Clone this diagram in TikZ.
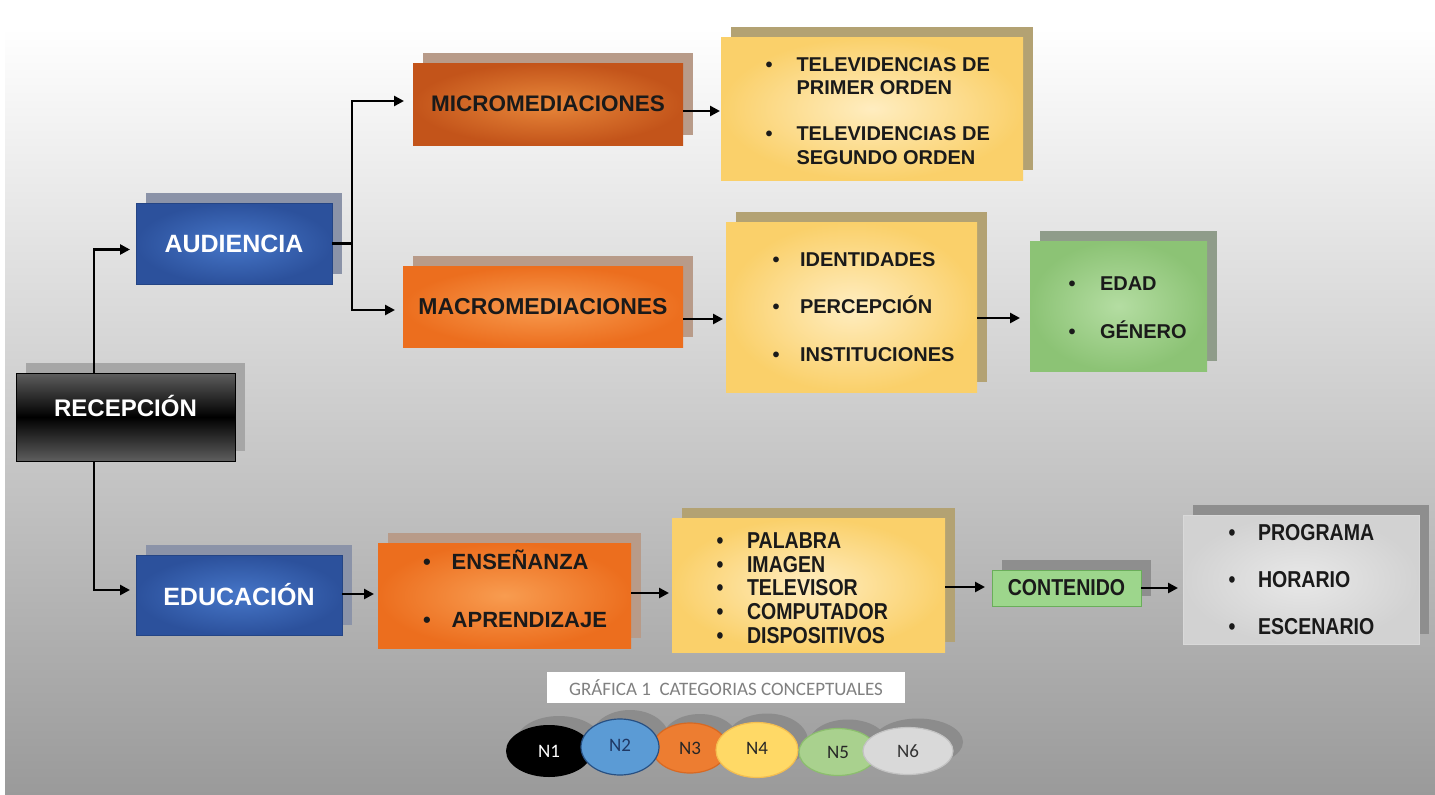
\documentclass[tikz,border=0pt]{standalone}
\usepackage{fontspec}
\setmainfont{Liberation Sans}
\newfontfamily\narrowsans{Liberation Sans}[FakeStretch=0.85]
\newfontfamily\legendfont{Carlito}
\usetikzlibrary{arrows.meta,shadows,shapes.geometric}

\definecolor{ink}{HTML}{1A1A1A}
\definecolor{bgbottom}{HTML}{9A9A9A}
\definecolor{recSh}{HTML}{A6A6A6}
\definecolor{recEdge}{HTML}{5E5E5E}
\definecolor{blueE}{HTML}{2C519C}
\definecolor{blueC}{HTML}{4676C8}
\definecolor{blueSh}{HTML}{8B93A8}
\definecolor{orgDarkE}{HTML}{C3541A}
\definecolor{orgDarkC}{HTML}{E8873A}
\definecolor{orgE}{HTML}{EC6E1E}
\definecolor{orgC}{HTML}{F89C50}
\definecolor{orgSh}{HTML}{B89B89}
\definecolor{yelE}{HTML}{FAD06A}
\definecolor{yelC}{HTML}{FFEDC0}
\definecolor{yelSh}{HTML}{B3A273}
\definecolor{grnE}{HTML}{8CC375}
\definecolor{grnC}{HTML}{B4DDA2}
\definecolor{grnSh}{HTML}{8F9C8A}
\definecolor{contFill}{HTML}{9DD68C}
\definecolor{contEdge}{HTML}{6AAE5A}
\definecolor{gryE}{HTML}{D2D2D2}
\definecolor{gryC}{HTML}{E8E8E8}
\definecolor{grySh}{HTML}{8E8E8E}
\definecolor{legSh}{HTML}{8C8C8C}
\definecolor{capText}{HTML}{808080}
\definecolor{nBlue}{RGB}{91,155,213}
\definecolor{nBlueEdge}{RGB}{40,80,130}
\definecolor{nBlueText}{RGB}{31,56,100}
\definecolor{nOrange}{RGB}{237,125,49}
\definecolor{nOrangeEdge}{RGB}{215,105,35}
\definecolor{nYellow}{RGB}{255,217,102}
\definecolor{nYellowEdge}{RGB}{244,190,80}
\definecolor{nGreen}{RGB}{169,209,142}
\definecolor{nGreenEdge}{RGB}{140,190,110}
\definecolor{nGrey}{RGB}{217,217,217}
\definecolor{nGreyEdge}{RGB}{195,195,195}

\tikzset{
  panel/.style={rectangle, inner sep=0pt, outer sep=0pt},
  shadowed/.style={general shadow={fill=#1, shadow xshift=10pt, shadow yshift=10pt}},
  darkbox/.style={panel, shadowed=recSh, top color=recEdge, bottom color=recEdge,
    middle color=black, draw=black, line width=0.8pt, text=white,
    font=\bfseries\fontsize{24}{28}\selectfont},
  bluebox/.style={panel, shadowed=blueSh, inner color=blueC, outer color=blueE,
    draw=blueE!85!black, line width=0.5pt, text=white,
    font=\bfseries\fontsize{25}{30}\selectfont},
  deeporange/.style={panel, shadowed=orgSh, inner color=orgDarkC, outer color=orgDarkE,
    text=ink, font=\bfseries\fontsize{22.5}{27}\selectfont},
  orangebox/.style={panel, shadowed=orgSh, inner color=orgC, outer color=orgE,
    text=ink, font=\bfseries\fontsize{23}{27}\selectfont},
  yellowbox/.style={panel, shadowed=yelSh, inner color=yelC, outer color=yelE},
  greenbox/.style={panel, shadowed=grnSh, inner color=grnC, outer color=grnE},
  greybox/.style={panel, shadowed=grySh, inner color=gryC, outer color=gryE,
    draw=white!85!black, line width=0.5pt},
  tagbox/.style={panel, shadowed=grySh, fill=contFill, draw=contEdge, line width=0.8pt,
    text=ink, font=\narrowsans\bfseries\fontsize{23}{26}\selectfont},
  listtext/.style={inner sep=0pt, outer sep=0pt, anchor=west, text=ink,
    font=\bfseries\fontsize{20}{#1}\selectfont},
  widelist/.style={inner sep=0pt, outer sep=0pt, anchor=west, text=ink,
    font=\bfseries\fontsize{22}{#1}\selectfont},
  narrowlist/.style={inner sep=0pt, outer sep=0pt, anchor=west, text=ink,
    font=\narrowsans\bfseries\fontsize{23}{#1}\selectfont},
  link/.style={draw=black, line width=2.8pt},
  conn/.style={link, -{Triangle[length=10pt,width=10pt]}},
  capbox/.style={rectangle, inner sep=0pt, fill=white, text=capText,
    minimum width=358pt, minimum height=31pt,
    font=\legendfont\fontsize{19}{22}\selectfont},
  legend/.style={ellipse, inner sep=0pt, outer sep=0pt, line width=1.2pt,
    font=\legendfont\fontsize{19}{22}\selectfont}
}

\begin{document}
\begin{tikzpicture}[x=1pt, y=-1pt]
  \useasboundingbox (0,0) rectangle (1435,795);
  % backdrop
  \fill[white] (0,0) rectangle (1435,795);
  \shade[top color=white, bottom color=bgbottom] (5,28) rectangle (1435,795);

  % first column
  \node[darkbox, minimum width=219pt, minimum height=88pt] (rec) at (125.5,417)
    {\raisebox{0.5pt}[0pt][0pt]{RECEPCIÓN}};
  \node[bluebox, minimum width=196pt, minimum height=81pt] (aud) at (234,243.5) {AUDIENCIA};
  \node[bluebox, minimum width=206pt, minimum height=80pt] (edu) at (239,595) {EDUCACIÓN};

  % mediations
  \node[deeporange, minimum width=270pt, minimum height=82pt] (micro) at (548,104) {MICROMEDIACIONES};
  \node[orangebox, minimum width=280pt, minimum height=81pt] (macro) at (543,306.5) {MACROMEDIACIONES};
  \node[orangebox, minimum width=253pt, minimum height=105pt] (org2) at (504.5,595.5) {};

  % detail panels
  \node[yellowbox, minimum width=302pt, minimum height=143pt] (yel1) at (872,108.5) {};
  \node[yellowbox, minimum width=251pt, minimum height=170pt] (yel2) at (851.5,307) {};
  \node[greenbox, minimum width=177pt, minimum height=130pt] (grn) at (1118.5,306) {};
  \node[yellowbox, minimum width=273pt, minimum height=134pt] (yel3) at (808.5,585) {};
  \node[tagbox, minimum width=149pt, minimum height=36pt] (cont) at (1066.5,588) {CONTENIDO};
  \node[greybox, minimum width=236pt, minimum height=129pt] (gry) at (1301,579.5) {};

  % bullet lists
  \node[listtext=23.5] (yel1txt) at (765.5,113)
    {\begin{tabular}{@{}l@{\hspace{24pt}}l@{}}
      \textbullet & TELEVIDENCIAS DE\\
                  & PRIMER ORDEN\\[22.5pt]
      \textbullet & TELEVIDENCIAS DE\\
                  & SEGUNDO ORDEN
     \end{tabular}};
  \node[listtext=47.5] (yel2txt) at (772.5,304)
    {\begin{tabular}{@{}l@{\hspace{20.5pt}}l@{}}
      \textbullet & IDENTIDADES\\
      \textbullet & PERCEPCIÓN\\
      \textbullet & INSTITUCIONES
     \end{tabular}};
  \node[listtext=48] (grntxt) at (1068.5,304.6)
    {\begin{tabular}{@{}l@{\hspace{24.5pt}}l@{}}
      \textbullet & EDAD\\
      \textbullet & GÉNERO
     \end{tabular}};
  \node[widelist=58] (org2txt) at (423,587.3)
    {\begin{tabular}{@{}l@{\hspace{21pt}}l@{}}
      \textbullet & ENSEÑANZA\\
      \textbullet & APRENDIZAJE
     \end{tabular}};
  \node[narrowlist=23.75] (yel3txt) at (716.6,591)
    {\begin{tabular}{@{}l@{\hspace{23.6pt}}l@{}}
      \textbullet & PALABRA\\
      \textbullet & IMAGEN\\
      \textbullet & TELEVISOR\\
      \textbullet & COMPUTADOR\\
      \textbullet & DISPOSITIVOS
     \end{tabular}};
  \node[narrowlist=47] (grytxt) at (1228.6,577.8)
    {\begin{tabular}{@{}l@{\hspace{22.6pt}}l@{}}
      \textbullet & PROGRAMA\\
      \textbullet & HORARIO\\
      \textbullet & ESCENARIO
     \end{tabular}};

  % connectors from RECEPCIÓN
  \coordinate (recTop) at ([xshift=78pt]rec.north west);
  \coordinate (recBot) at ([xshift=78pt]rec.south west);
  \coordinate (audIn) at ([yshift=-6pt]aud.west);
  \coordinate (eduIn) at ([yshift=5pt]edu.west);
  \draw[conn, shorten >=6pt] (recTop) |- (audIn);
  \draw[conn, shorten >=6pt] (recBot) |- (eduIn);

  % AUDIENCIA branches
  \coordinate (split) at (352,243.5);
  \coordinate (microIn) at ([yshift=3pt]micro.west);
  \coordinate (macroIn) at ([yshift=-3.5pt]macro.west);
  \draw[link] (aud.east) -- (split);
  \draw[conn, shorten >=9pt] (split) |- (microIn);
  \draw[conn, shorten >=8pt] (split) |- (macroIn);

  % chains to the detail panels
  \coordinate (microOut) at ([yshift=-7pt]micro.east);
  \coordinate (macroOut) at ([yshift=-12.5pt]macro.east);
  \coordinate (yel2Out) at ([yshift=-11pt]yel2.east);
  \coordinate (eduOut) at ([yshift=1pt]edu.east);
  \coordinate (org2Out) at ([yshift=2.5pt]org2.east);
  \coordinate (yel3Out) at ([yshift=-2pt]yel3.east);
  \draw[conn, shorten >=1pt] (microOut) -- (microOut -| yel1.west);
  \draw[conn, shorten >=3pt] (macroOut) -- (macroOut -| yel2.west);
  \draw[conn, shorten >=10pt] (yel2Out) -- (yel2Out -| grn.west);
  \draw[conn, shorten >=4pt] (eduOut) -- (eduOut -| org2.west);
  \draw[conn, shorten >=3pt] (org2Out) -- (org2Out -| yel3.west);
  \draw[conn, shorten >=7pt] (yel3Out) -- (yel3Out -| cont.west);
  \draw[conn, shorten >=5pt] (cont.east) -- (cont.east -| gry.west);

  % legend: caption and colour key
  \node[capbox] (cap) at (726,687.5) {GRÁFICA 1\ \ CATEGORIAS CONCEPTUALES};
  \fill[legSh] (559,742) ellipse [x radius=43, y radius=26];
  \fill[legSh] (700,739) ellipse [x radius=37.5, y radius=25];
  \fill[legSh] (630,738) ellipse [x radius=39, y radius=28];
  \fill[legSh] (767,741) ellipse [x radius=41, y radius=27.5];
  \fill[legSh] (848,743) ellipse [x radius=39, y radius=23.5];
  \fill[legSh] (918,742) ellipse [x radius=45, y radius=23.5];
  \node[legend, fill=black, text=white, minimum width=86pt, minimum height=52pt] (n1) at (549,751) {N1};
  \node[legend, fill=nOrange, draw=nOrangeEdge, text=black!85, minimum width=75pt, minimum height=50pt] (n3) at (690,748) {N3};
  \node[legend, fill=nBlue, draw=nBlueEdge, text=nBlueText, minimum width=78pt, minimum height=56pt] (n2) at (620,747) {\raisebox{3pt}{N2}};
  \node[legend, fill=nYellow, draw=nYellowEdge, text=black!85, minimum width=82pt, minimum height=55pt] (n4) at (757,750) {\raisebox{3pt}{N4}};
  \node[legend, fill=nGreen, draw=nGreenEdge, text=black!85, minimum width=78pt, minimum height=47pt] (n5) at (838,752) {N5};
  \node[legend, fill=nGrey, draw=nGreyEdge, text=black!80, minimum width=90pt, minimum height=47pt] (n6) at (908,751) {N6};
\end{tikzpicture}
\end{document}
